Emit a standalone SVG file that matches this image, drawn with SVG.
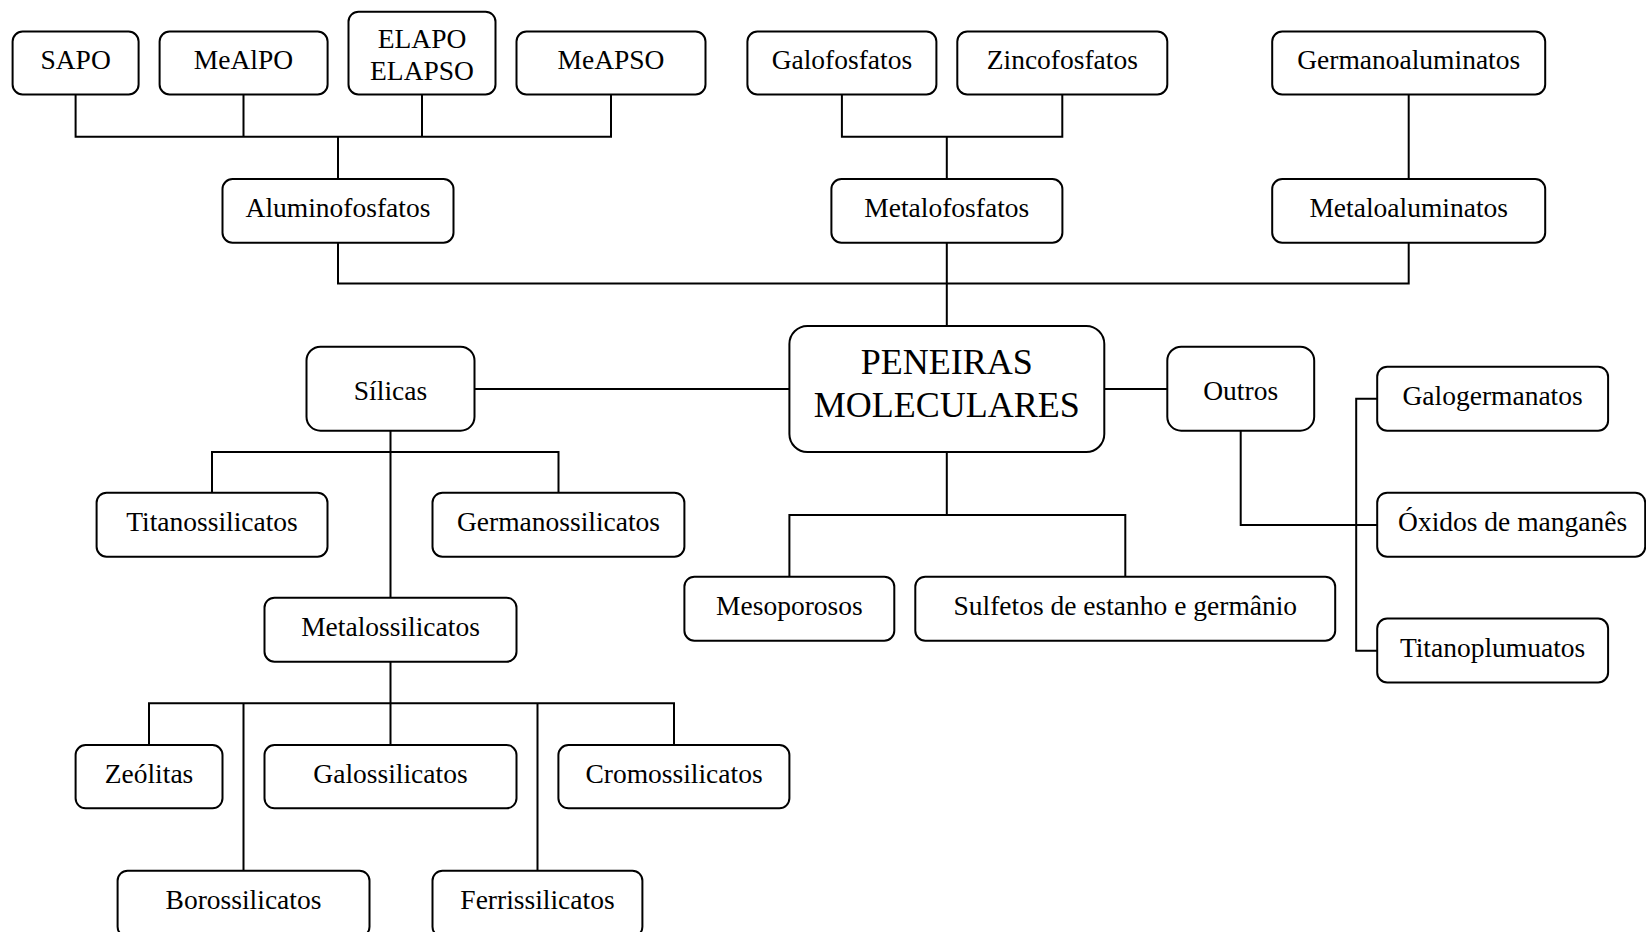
<svg xmlns="http://www.w3.org/2000/svg" width="1646" height="932" viewBox="0 0 1646 932">
<style>
.b{fill:#fff;stroke:#000;stroke-width:2}
.t{font-family:"Liberation Serif","Times New Roman",serif;font-size:27.5px;text-anchor:middle;fill:#000}
.big{font-size:36px}
.c{fill:none;stroke:#000;stroke-width:2}
</style>
<rect width="1646" height="932" fill="#fff"/>
<g id="connectors" class="c">
<path d="M75.6 94.5V136.7H611V94.5M243.5 94.5V136.7M422 94.5V136.7M338 136.7V179"/>
<path d="M841.9 94.5V136.7H1062.3V94.5M946.8 136.7V179"/>
<path d="M1408.7 94.5V179"/>
<path d="M338 242.7V283.4H1408.7V242.7M946.8 242.7V326"/>
<path d="M474.5 389H789.4M1104.3 389H1167.3"/>
<path d="M390.5 430.7V597.7M212 492.7V452H558.5V492.7"/>
<path d="M390.5 661.7V745M149 745V703.3H674V745M243.5 703.3V870.7M537.5 703.3V870.7"/>
<path d="M946.8 452V515M789.4 576.7V515H1125.3V576.7"/>
<path d="M1240.7 430.7V525H1377.2M1377.2 398.7H1356.2V650.7H1377.2"/>
</g>
<g id="sapo"><rect class="b" x="12.6" y="31.5" width="126" height="63" rx="10"/><text class="t" x="75.6" y="69">SAPO</text></g>
<g id="mealpo"><rect class="b" x="159.6" y="31.5" width="168" height="63" rx="10"/><text class="t" x="243.5" y="69">MeAlPO</text></g>
<g id="elapo"><rect class="b" x="348.5" y="11.7" width="147" height="82.8" rx="10"/><text class="t" x="422" y="48">ELAPO</text><text class="t" x="422" y="80">ELAPSO</text></g>
<g id="meapso"><rect class="b" x="516.5" y="31.5" width="189" height="63" rx="10"/><text class="t" x="611" y="69">MeAPSO</text></g>
<g id="galofosfatos"><rect class="b" x="747.4" y="31.5" width="189" height="63" rx="10"/><text class="t" x="841.9" y="69">Galofosfatos</text></g>
<g id="zincofosfatos"><rect class="b" x="957.3" y="31.5" width="210" height="63" rx="10"/><text class="t" x="1062.3" y="69">Zincofosfatos</text></g>
<g id="germanoaluminatos"><rect class="b" x="1272.2" y="31.5" width="273" height="63" rx="10"/><text class="t" x="1408.7" y="69">Germanoaluminatos</text></g>
<g id="aluminofosfatos"><rect class="b" x="222.5" y="179" width="231" height="63.7" rx="10"/><text class="t" x="338" y="217">Aluminofosfatos</text></g>
<g id="metalofosfatos"><rect class="b" x="831.4" y="179" width="231" height="63.7" rx="10"/><text class="t" x="946.8" y="217">Metalofosfatos</text></g>
<g id="metaloaluminatos"><rect class="b" x="1272.2" y="179" width="273" height="63.7" rx="10"/><text class="t" x="1408.7" y="217">Metaloaluminatos</text></g>
<g id="peneiras"><rect class="b" x="789.4" y="326" width="314.9" height="126" rx="18"/><text class="t big" x="946.8" y="374">PENEIRAS</text><text class="t big" x="946.8" y="416.5">MOLECULARES</text></g>
<g id="silicas"><rect class="b" x="306.5" y="346.7" width="168" height="84" rx="14"/><text class="t" x="390.5" y="400">Sílicas</text></g>
<g id="outros"><rect class="b" x="1167.3" y="346.7" width="146.9" height="84" rx="14"/><text class="t" x="1240.7" y="400">Outros</text></g>
<g id="galogermanatos"><rect class="b" x="1377.2" y="366.7" width="230.9" height="64" rx="10"/><text class="t" x="1492.6" y="405">Galogermanatos</text></g>
<g id="oxidos"><rect class="b" x="1377.2" y="492.7" width="268" height="64" rx="10"/><text class="t" x="1512.6" y="531">Óxidos de manganês</text></g>
<g id="titanoplumuatos"><rect class="b" x="1377.2" y="618.5" width="230.9" height="64" rx="10"/><text class="t" x="1492.6" y="656.5">Titanoplumuatos</text></g>
<g id="titanossilicatos"><rect class="b" x="96.6" y="492.7" width="230.9" height="64" rx="10"/><text class="t" x="212" y="531">Titanossilicatos</text></g>
<g id="germanossilicatos"><rect class="b" x="432.5" y="492.7" width="251.9" height="64" rx="10"/><text class="t" x="558.5" y="531">Germanossilicatos</text></g>
<g id="mesoporosos"><rect class="b" x="684.4" y="576.7" width="209.9" height="64" rx="10"/><text class="t" x="789.4" y="615">Mesoporosos</text></g>
<g id="sulfetos"><rect class="b" x="915.3" y="576.7" width="419.9" height="64" rx="10"/><text class="t" x="1125.3" y="615">Sulfetos de estanho e germânio</text></g>
<g id="metalossilicatos"><rect class="b" x="264.5" y="597.7" width="252" height="64" rx="10"/><text class="t" x="390.5" y="636">Metalossilicatos</text></g>
<g id="zeolitas"><rect class="b" x="75.6" y="745" width="146.9" height="63.3" rx="10"/><text class="t" x="149" y="782.5">Zeólitas</text></g>
<g id="galossilicatos"><rect class="b" x="264.5" y="745" width="252" height="63.3" rx="10"/><text class="t" x="390.5" y="782.5">Galossilicatos</text></g>
<g id="cromossilicatos"><rect class="b" x="558.4" y="745" width="231" height="63.3" rx="10"/><text class="t" x="674" y="782.5">Cromossilicatos</text></g>
<g id="borossilicatos"><rect class="b" x="117.6" y="870.7" width="251.9" height="66" rx="10"/><text class="t" x="243.5" y="908.5">Borossilicatos</text></g>
<g id="ferrissilicatos"><rect class="b" x="432.5" y="870.7" width="209.9" height="66" rx="10"/><text class="t" x="537.5" y="908.5">Ferrissilicatos</text></g>
</svg>
